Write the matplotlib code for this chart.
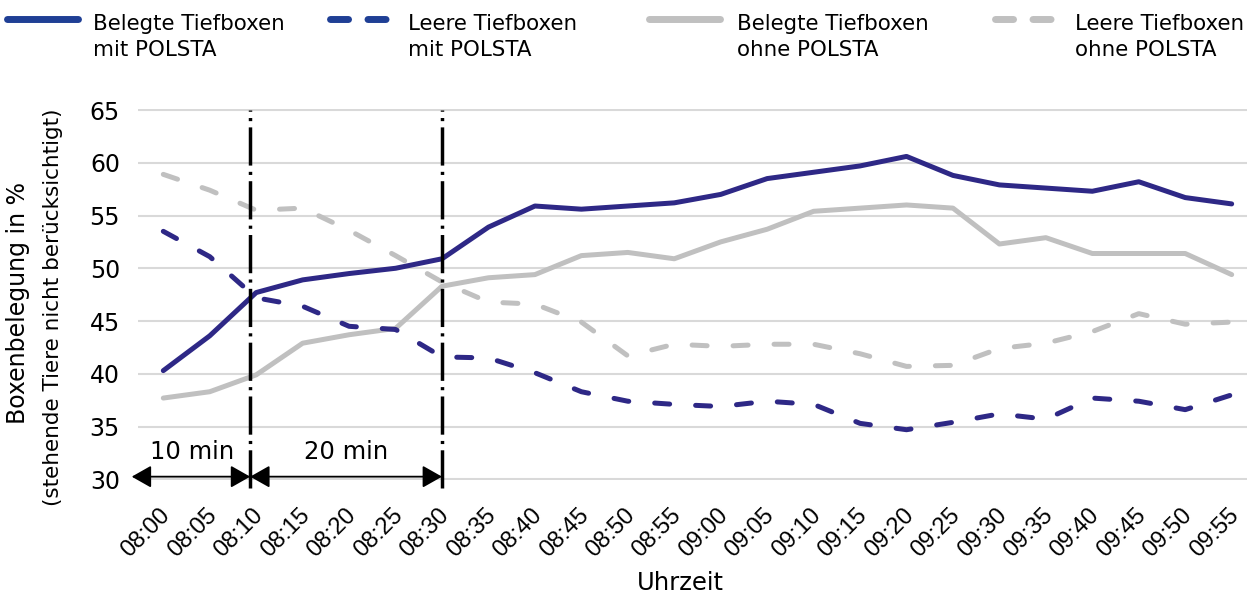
import matplotlib
matplotlib.use("Agg")
import matplotlib.pyplot as plt
import matplotlib.transforms as mtransforms
from matplotlib.lines import Line2D

times = ["08:00", "08:05", "08:10", "08:15", "08:20", "08:25", "08:30", "08:35",
         "08:40", "08:45", "08:50", "08:55", "09:00", "09:05", "09:10", "09:15",
         "09:20", "09:25", "09:30", "09:35", "09:40", "09:45", "09:50", "09:55"]

belegt_mit = [40.3, 43.6, 47.7, 48.9, 49.5, 50.0, 50.9, 53.9, 55.9, 55.6, 55.9, 56.2,
              57.0, 58.5, 59.1, 59.7, 60.6, 58.8, 57.9, 57.6, 57.3, 58.2, 56.7, 56.1]
leer_mit = [53.5, 51.1, 47.2, 46.4, 44.5, 44.2, 41.6, 41.5, 40.1, 38.3, 37.4, 37.1,
            36.9, 37.4, 37.1, 35.3, 34.7, 35.4, 36.2, 35.7, 37.7, 37.4, 36.6, 38.0]
belegt_ohne = [37.7, 38.3, 39.9, 42.9, 43.7, 44.3, 48.3, 49.1, 49.4, 51.2, 51.5, 50.9,
               52.5, 53.7, 55.4, 55.7, 56.0, 55.7, 52.3, 52.9, 51.4, 51.4, 51.4, 49.4]
leer_ohne = [58.9, 57.4, 55.5, 55.7, 53.6, 51.2, 48.7, 46.8, 46.6, 44.9, 41.7, 42.8,
             42.6, 42.8, 42.8, 41.9, 40.7, 40.8, 42.4, 42.9, 44.0, 45.7, 44.7, 44.9]

legend_labels = [("Belegte Tiefboxen", "mit POLSTA"),
                 ("Leere Tiefboxen", "mit POLSTA"),
                 ("Belegte Tiefboxen", "ohne POLSTA"),
                 ("Leere Tiefboxen", "ohne POLSTA")]

phase_bounds = [1.87, 6.0]          # category positions of the dash-dot markers
phase_labels = ["10 min", "20 min"]
arrow_start = -0.68

yticks = [30, 35, 40, 45, 50, 55, 60, 65]

BLUE = "#2e2886"
BLUE_LEG = "#1f3f95"
GREY = "#c0c0c0"

W, H = 1249, 599
fig = plt.figure(figsize=(W / 100, H / 100), dpi=100)

ylo, yhi = 29.9, 65.1
ppu = (479.3 - 110.0) / 35.0
top_px = 110.0 - (yhi - 65) * ppu
bot_px = 479.3 + (30 - ylo) * ppu
left_px, right_px = 138.0, 1247.0
ax = fig.add_axes([left_px / W, 1 - bot_px / H, (right_px - left_px) / W, (bot_px - top_px) / H])

x = list(range(len(times)))
lw = 3.6
dash = (0, (3.0, 5.2))

ax.plot(x, belegt_ohne, color=GREY, lw=lw, solid_capstyle="round", solid_joinstyle="round", zorder=3)
ax.plot(x, leer_ohne, color=GREY, lw=lw, linestyle=dash, dash_capstyle="round", dash_joinstyle="round", zorder=3)
ax.plot(x, belegt_mit, color=BLUE, lw=lw, solid_capstyle="round", solid_joinstyle="round", zorder=4)
ax.plot(x, leer_mit, color=BLUE, lw=lw, linestyle=dash, dash_capstyle="round", dash_joinstyle="round", zorder=4)

ax.set_xlim(-0.545, 23.33)
ax.set_ylim(ylo, yhi)
ax.set_yticks(yticks)
ax.set_yticklabels([str(v) for v in yticks], fontsize=17, family="DejaVu Sans")
ax.set_xticks(x)
ax.set_xticklabels(times, rotation=45, ha="right", va="top", rotation_mode="anchor",
                   fontsize=17, family="Liberation Sans")
ax.tick_params(axis="y", length=0, pad=13)
ax.tick_params(axis="x", length=0, pad=15)
offset = mtransforms.ScaledTranslation(-4 / 100, -3 / 100, fig.dpi_scale_trans)
for lab in ax.get_xticklabels():
    lab.set_transform(lab.get_transform() + offset)
for s in ax.spines.values():
    s.set_visible(False)
ax.yaxis.grid(True, color="#d9d9d9", lw=1.5)
ax.set_axisbelow(True)

# dash-dot phase markers
for b in phase_bounds:
    ax.plot([b, b], [29.2, 65], color="black", lw=2.5, linestyle=(0, (11, 1.8, 0.9, 1.8)),
            clip_on=False, zorder=6)

# arrows
arrow_y = 30.25
edges = [arrow_start] + phase_bounds
for i in range(len(phase_bounds)):
    ax.annotate("", xy=(edges[i + 1], arrow_y), xytext=(edges[i], arrow_y),
                arrowprops=dict(arrowstyle="<|-|>,head_length=0.6,head_width=0.34",
                                color="black", lw=1.3, shrinkA=0, shrinkB=0,
                                mutation_scale=20),
                annotation_clip=False, zorder=7)
label_x = [192.5, 345.8]
for lx, t in zip(label_x, phase_labels):
    xd = (lx - 163.3) / 46.45
    ax.text(xd, 32.6, t, ha="center", va="center", fontsize=17.5, family="DejaVu Sans", zorder=7)

# axis labels
fig.text(680 / W, 1 - 583 / H, "Uhrzeit", ha="center", va="center", fontsize=17.5, family="DejaVu Sans")
fig.text(18 / W, 1 - 303.5 / H, "Boxenbelegung in %", rotation=90, ha="center", va="center",
         fontsize=17, family="DejaVu Sans")
fig.text(53 / W, 1 - 307.5 / H, "(stehende Tiere nicht berücksichtigt)", rotation=90, ha="center",
         va="center", fontsize=15.5, family="DejaVu Sans")

# legend (manual, top row)
handle_spans = [(7, 78), (330, 395), (649, 720), (995, 1059)]
text_x = [92.7, 408, 737, 1075]
styles = [(BLUE_LEG, "-"), (BLUE_LEG, (0, (2.6, 2.8))), (GREY, "-"), (GREY, (0, (2.6, 2.8)))]
hy = 1 - 18.5 / H
for (x0, x1), tx, (c, ls), (l1, l2) in zip(handle_spans, text_x, styles, legend_labels):
    ln = Line2D([x0 / W, x1 / W], [hy, hy], transform=fig.transFigure, color=c, lw=5,
                linestyle=ls, solid_capstyle="round", dash_capstyle="round")
    fig.add_artist(ln)
    fig.text(tx / W, 1 - 29.5 / H, l1, ha="left", va="baseline", fontsize=15.4, family="DejaVu Sans")
    fig.text(tx / W, 1 - 56 / H, l2, ha="left", va="baseline", fontsize=15.4, family="DejaVu Sans")

fig.savefig("out.png", dpi=100)
